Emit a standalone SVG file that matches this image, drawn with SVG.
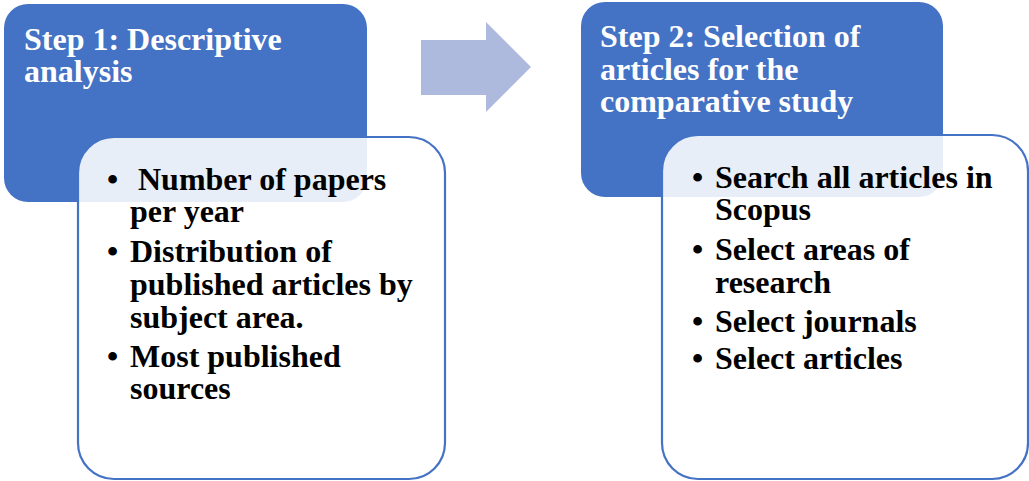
<svg xmlns="http://www.w3.org/2000/svg" width="1029" height="481" viewBox="0 0 1029 481">
<style>
.hdr{fill:#4472C4;}
.body{fill:#FFFFFF;fill-opacity:0.88;stroke:#4472C4;stroke-width:2.2;}
.t{font-family:"Liberation Serif","Times New Roman",serif;font-weight:bold;font-size:32px;}
.w{fill:#FFFFFF;}
.k{fill:#000000;}
.arrow{fill:#ADB9DD;}
</style>
<rect width="1029" height="481" fill="#FFFFFF"/>
<g id="step1">
<rect class="hdr" x="4" y="4" width="363" height="198" rx="24"/>
<text class="t w"><tspan x="24" y="50">Step 1: Descriptive</tspan><tspan x="24" y="82">analysis</tspan></text>
</g>
<g id="step1-details">
<rect class="body" x="78" y="137" width="367" height="342" rx="36"/>
<text class="t k" xml:space="preserve"><tspan x="107" y="190">•</tspan><tspan x="130" y="190"> Number of papers</tspan><tspan x="130" y="222">per year</tspan></text>
<text class="t k"><tspan x="107" y="262">•</tspan><tspan x="130" y="262">Distribution of</tspan><tspan x="130" y="295">published articles by</tspan><tspan x="130" y="328">subject area.</tspan></text>
<text class="t k"><tspan x="107" y="367">•</tspan><tspan x="130" y="367">Most published</tspan><tspan x="130" y="399">sources</tspan></text>
</g>
<g id="connectors">
<polygon class="arrow" points="421,40 486,40 486,22 531,67 486,112 486,95 421,95"/>
</g>
<g id="step2">
<rect class="hdr" x="581" y="2" width="362" height="195" rx="24"/>
<text class="t w"><tspan x="600" y="47">Step 2: Selection of</tspan><tspan x="600" y="80">articles for the</tspan><tspan x="600" y="112">comparative study</tspan></text>
</g>
<g id="step2-details">
<rect class="body" x="662" y="135" width="366" height="344" rx="36"/>
<text class="t k"><tspan x="692" y="188">•</tspan><tspan x="715" y="188">Search all articles in</tspan><tspan x="715" y="220">Scopus</tspan></text>
<text class="t k"><tspan x="692" y="260">•</tspan><tspan x="715" y="260">Select areas of</tspan><tspan x="715" y="293">research</tspan></text>
<text class="t k"><tspan x="692" y="332">•</tspan><tspan x="715" y="332">Select journals</tspan></text>
<text class="t k"><tspan x="692" y="369">•</tspan><tspan x="715" y="369">Select articles</tspan></text>
</g>
</svg>
